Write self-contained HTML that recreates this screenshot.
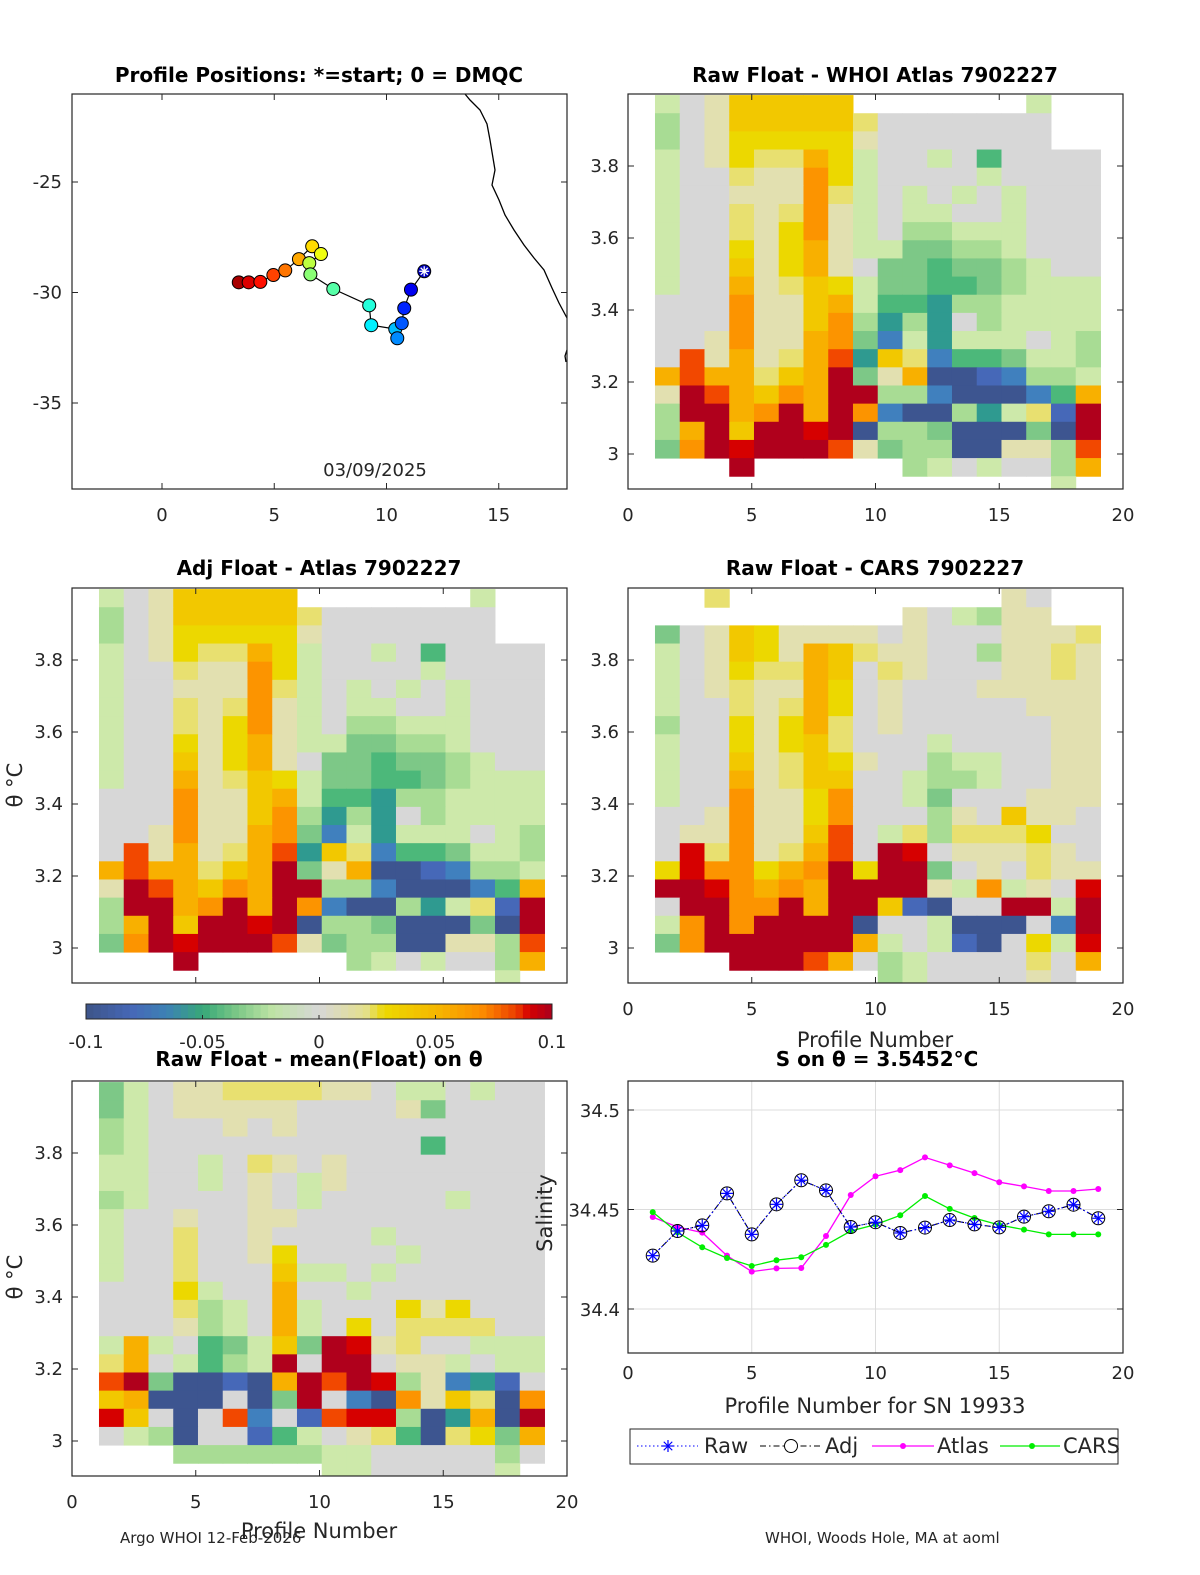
<!DOCTYPE html>
<html><head><meta charset="utf-8"><style>
html,body{margin:0;padding:0;background:#fff;}
svg{display:block;font-family:"DejaVu Sans","Liberation Sans",sans-serif;}
.tk{font-size:18px;fill:#262626;}
.tt{font-size:20px;font-weight:bold;fill:#000;}
.lb{font-size:21px;fill:#262626;}
</style></head><body>
<svg id="fig" width="1200" height="1575" viewBox="0 0 1200 1575" xmlns="http://www.w3.org/2000/svg"></svg>
<script>
// ---------- data ----------
// Heatmap codes: a=-0.1 ... i=0 ... q=+0.1, r=+0.1125, '.'=no data. Rows top (high theta) to bottom.
const whoiRows = [
"hijmmmmm.......h..","gijmmmmmkiiiiiii..","gijllllljiiiiiii..","hijlkknlhiihieiiii",
"hiikjjolhiiiihiiii","hiijjjokhihihihiii","hiikjkojhihhiihiii","hiikjlojhigghhhiii",
"hiiljlnjhhffgghiii","hiimjlnjiffeffghii","hiinjkmlhffeefghhh","iiiojjmnheedgghhhh",
"iiiojjmogdgdighhhh","iijojjnofchdhhhihg","ipjnjknpdmkceefhhg","npnnkmnrfjnaabcggh",
"jrpnmonrrggcaaacen","grrnornrocaagdhkbr","gnrmrrqraggfaaafar","forqrrrpjfggaajjgp",
"...r......ghihiign","................h."];
const atlasRows = whoiRows.slice();
const carsRows = [
"..k...........ji..","..........jihgjj..","fijmljjjjijiiijjjk","hijmljnmkjjiigjjkj",
"hijlkknmikjiiijjkj","hijkjjnlijiiijjjjj","hiikjknlijiiiiijjj","giiljlnkijiiiiiijj",
"hiiljlmkiiihiiiijj","hiimjkmljiighhiijj","hiinjkmmiihgghiijj","hiiojjloiihfiiijjj",
"iijojjloiiigjimjji","ijjojjmpihkgkkklii","iqkojknpirqijjjkji","lqoolnorlrrfijikjj",
"rrqononrrrrjhohjiq","irroornrrmbaiirrhr","hororrrraiihaaaicr","forrrrrrnhihbailhq",
"...rrrpnighiiiikin",".........ghiiiiji."];
const meanRows = [
"fhijjkkkkjjihhihii","fhijjjjjiiiijfiiii","ghiiijijiiiiiiiiii","ghiiiiiiiiiiieiiii",
"hhiihikjijiiiiiiii","hhiihijihjiiiiiiii","ghiiiijihiiiiihiii","hiijiijjiiiiiiiiii",
"hiikiijiiiihiiiiii","hiikiijliiiihiiiii","hiikiiimhhihiiiiii","iiilhiiniihiiiiiii",
"iiikghinhiiiljliii","iiijghinhilikkkkii","hnhiefhmfrqjkiihhh","kniheghrirrijjhihh",
"prfaabanrprqgjcdbi","mnaaaiafricaojmkao","qmiaipcibpqqgadnar","ihgaiibehijkeaklfn",
"...gggggghhiiiiigi",".........hhiiiiih."];
const profiles = [1,2,3,4,5,6,7,8,9,10,11,12,13,14,15,16,17,18,19];
const rawSal = [34.4268,34.4392,34.4420,34.4581,34.4375,34.4526,34.4647,34.4596,34.4412,34.4436,34.4382,34.4409,34.4447,34.4425,34.4410,34.4464,34.4491,34.4524,34.4456];
const adjSal = [34.4268,34.4392,34.4420,34.4581,34.4375,34.4526,34.4647,34.4596,34.4412,34.4436,34.4382,34.4409,34.4447,34.4425,34.4410,34.4464,34.4491,34.4524,34.4456];
const atlasSal = [34.4462,34.4412,34.4384,34.4268,34.4188,34.4204,34.4206,34.4367,34.4573,34.4667,34.4698,34.4762,34.4722,34.4683,34.4637,34.4616,34.4593,34.4593,34.4603];
const carsSal = [34.4487,34.4385,34.4310,34.4256,34.4216,34.4245,34.4260,34.4322,34.4392,34.4424,34.4471,34.4568,34.4503,34.4457,34.4422,34.4399,34.4375,34.4375,34.4375];
const lon = [11.68,11.09,10.79,10.68,10.48,10.39,9.32,9.23,7.63,6.61,6.56,7.08,6.69,6.10,5.49,4.96,4.38,3.86,3.42];
const lat = [-29.04,-29.87,-30.71,-31.39,-32.07,-31.65,-31.48,-30.58,-29.84,-29.18,-28.67,-28.26,-27.91,-28.49,-29.00,-29.21,-29.52,-29.54,-29.54];
const thetaTicks = [3,3.2,3.4,3.6,3.8];
const thetaTickLabels = ["3","3.2","3.4","3.6","3.8"];
const profTicks = [0,5,10,15,20];
const salTicks = [34.4,34.45,34.5];
const salTickLabels = ["34.4","34.45","34.5"];
const lonTicks = [0,5,10,15];
const latTicks = [-25,-30,-35];
const cbTicks = [-0.1,-0.05,0,0.05,0.1];
const cbTickLabels = ["-0.1","-0.05","0","0.05","0.1"];

// ---------- helpers ----------
const svg = document.getElementById('fig');
const NS = 'http://www.w3.org/2000/svg';
function mk(tag, attrs, parent){const e=document.createElementNS(NS,tag);for(const k in attrs)e.setAttribute(k,attrs[k]);(parent||svg).appendChild(e);return e;}
function txt(s, x, y, cls, anchor, parent){const t=mk('text',{x:x,y:y,class:cls,'text-anchor':anchor||'middle'},parent);t.textContent=s;return t;}
const palette = ["#3d5590","#4565b0","#4278c0","#3a8cb0","#2f9a90","#35a87e","#4cb87a","#8dd18a","#d7d7d7",
                 "#e2e0b4","#e8e070","#ecd800","#f2c800","#f8b000","#fc9000","#f24800","#d60000","#b0001c"];
// remap: index 7 is light green; grey at 8
const codeVal = c => (c.charCodeAt(0)-97-8)/80;
const pal2 = ["#3d5590","#4668b8","#4080be","#3a8cb0","#30a088","#4cb87a","#7dc887","#a8dc94","#cde9aa",
              "#d7d7d7","#e2e0b0","#e8e070","#ecd800","#f2c800","#f8b000","#fc9400","#f24800","#d60000","#b0001c"];
function colorFor(v){let i=Math.round(v*80)+8; if(i<0)i=0; if(i>17)i=17; return cellPal[i];}
const cellPal = ["#3d5590","#4668b8","#4080be","#2f9a90","#4cb87a","#7dc887","#a8dc94","#cde9aa",
                 "#d7d7d7","#e2e0b0","#e8e070","#ecd800","#f2c800","#f8b000","#fc9400","#f24800","#d60000","#b0001c"];

function axesBox(x0,y0,w,h,name){
  const r=mk('rect',{x:x0,y:y0,width:w,height:h,fill:'none',stroke:'#262626','stroke-width':1.2});
  
  
}
function heatmap(rows, x0, y0, name, showX){
  const W=495,H=395;
  const g=mk('g',{});
  
  
  const xs = p => x0 + p*W/20;
  // theta 3 at y0+360 ; 3.8 at y0+72
  const ys = t => y0 + 360 - (t-3)*360;
  const rowH = 18.15;
  const top = 3 + 360/360; // theta at axis top ~ 3.997
  rows.forEach((r,k)=>{
    for(let j=0;j<r.length;j++){
      const ch=r[j]; if(ch==='.')continue;
      const v=codeVal(ch);
      const tTop = 4 - 0.003 - k*rowH/360;
      const tBot = tTop - rowH/360;
      const px=xs(profiles[j]+0.09);
      let yT=ys(tTop), yB=ys(tBot);
      if(yT<y0)yT=y0; if(yB>y0+H)yB=y0+H;
      const c=mk('rect',{x:px.toFixed(2),y:yT.toFixed(2),width:(W/20+0.5).toFixed(2),height:(yB-yT+0.5).toFixed(2),fill:colorFor(v)},g);
      
      
    }
  });
  axesBox(x0,y0,W,H,name+'-axes');
  thetaTicks.forEach((t,i)=>{
    const y=ys(t);
    mk('line',{x1:x0,x2:x0+6,y1:y,y2:y,stroke:'#262626'});
    mk('line',{x1:x0+W-6,x2:x0+W,y1:y,y2:y,stroke:'#262626'});
    const l=txt(thetaTickLabels[i],x0-9,y+6,'tk','end');
    
    
  });
  profTicks.forEach(p=>{
    const x=xs(p);
    mk('line',{x1:x,x2:x,y1:y0+H,y2:y0+H-6,stroke:'#262626'});
    mk('line',{x1:x,x2:x,y1:y0,y2:y0+6,stroke:'#262626'});
    if(showX){const l=txt(String(p),x,y0+H+32,'tk');
      
      }
  });
}

// ---------- map panel ----------
(function(){
  const x0=72,y0=94,W=495,H=395;
  const lx = v => 162 + v*22.45;
  const ly = v => 182 - (v+25)*22.1;
  const g=mk('g',{});
  
  
  const coast="465,94 470,100 480,110 487,124 490,140 493,158 495,170 492,185 499,200 505,215 514,230 524,245 534,258 544,270 552,288 559,303 567,318";
  mk('polyline',{points:coast,fill:'none',stroke:'#000','stroke-width':1.3},g);
  mk('polyline',{points:"567,350 565,356 566,362",fill:'none',stroke:'#000','stroke-width':1.3},g);
  const pts=lon.map((v,i)=>lx(v).toFixed(1)+','+ly(lat[i]).toFixed(1)).join(' ');
  const tr=mk('polyline',{points:pts,fill:'none',stroke:'#000','stroke-width':1.2},g);
  
  
  function jet(t){const r=Math.min(1,Math.max(0,1.5-Math.abs(4*t-3))),gg=Math.min(1,Math.max(0,1.5-Math.abs(4*t-2))),b=Math.min(1,Math.max(0,1.5-Math.abs(4*t-1)));return `rgb(${Math.round(r*255)},${Math.round(gg*255)},${Math.round(b*255)})`;}
  for(let i=lon.length-1;i>=0;i--){
    const cx=lx(lon[i]),cy=ly(lat[i]);
    const c=mk('circle',{cx:cx,cy:cy,r:6.5,fill:jet(0.06+0.9*i/(lon.length-1)),stroke:'#000','stroke-width':1},g);
    
    
    if(i===0){
      for(let a=0;a<4;a++){const an=a*Math.PI/4;mk('line',{x1:cx-5*Math.cos(an),y1:cy-5*Math.sin(an),x2:cx+5*Math.cos(an),y2:cy+5*Math.sin(an),stroke:'#fff','stroke-width':1.3},g);}
    }
  }
  axesBox(x0,y0,W,H,'map-axes');
  lonTicks.forEach(v=>{const x=lx(v);mk('line',{x1:x,x2:x,y1:y0+H,y2:y0+H-6,stroke:'#262626'});mk('line',{x1:x,x2:x,y1:y0,y2:y0+6,stroke:'#262626'});
    const l=txt(String(v),x,y0+H+32,'tk');});
  latTicks.forEach(v=>{const y=ly(v);mk('line',{x1:x0,x2:x0+6,y1:y,y2:y,stroke:'#262626'});mk('line',{x1:x0+W-6,x2:x0+W,y1:y,y2:y,stroke:'#262626'});
    const l=txt(String(v),x0-10,y+6,'tk','end');});
  const d=txt('03/09/2025',375,476,'tk');
})();

heatmap(whoiRows,628,94,'whoi-heatmap',true);
heatmap(atlasRows,72,588,'atlas-heatmap',false);
heatmap(carsRows,628,588,'cars-heatmap',true);
heatmap(meanRows,72,1081,'mean-heatmap',true);

// ---------- colorbar ----------
(function(){
  const x0=86,x1=552,y0=1004,h=15;
  const stops=[[-0.1,[61,84,136]],[-0.08,[70,104,184]],[-0.065,[60,130,180]],[-0.05,[55,168,120]],[-0.035,[125,200,135]],[-0.02,[190,228,165]],[0,[215,215,215]],[0.02,[228,224,140]],[0.028,[236,216,0]],[0.05,[245,184,0]],[0.07,[252,140,0]],[0.085,[235,60,0]],[0.09,[214,0,0]],[0.1,[170,0,30]]];
  const g=mk('g',{});
  
  
  const N=64;
  for(let i=0;i<N;i++){
    const v=-0.1+(i+0.5)*0.2/N;let c=stops[0][1];
    for(let k=0;k<stops.length-1;k++){if(v>=stops[k][0]&&v<=stops[k+1][0]){const f=(v-stops[k][0])/(stops[k+1][0]-stops[k][0]);c=stops[k][1].map((a,j)=>Math.round(a+f*(stops[k+1][1][j]-a)));}}
    mk('rect',{x:x0+i*(x1-x0)/N,y:y0,width:(x1-x0)/N+0.5,height:h,fill:`rgb(${c})`},g);
  }
  mk('rect',{x:x0,y:y0,width:x1-x0,height:h,fill:'none',stroke:'#262626'},g);
  cbTicks.forEach((t,i)=>{const x=x0+(t+0.1)/0.2*(x1-x0);mk('line',{x1:x,x2:x,y1:y0+h,y2:y0+h-4,stroke:'#262626'},g);
    const l=txt(cbTickLabels[i],x,1048,'tk','middle',g);});
})();

// ---------- salinity line chart ----------
(function(){
  const x0=628,y0=1081,W=495,H=272;
  const xs=p=>x0+p*W/20;
  const ys=s=>1110+(34.5-s)*1990;
  const g=mk('g',{});
  
  
  [5,10,15].forEach(p=>mk('line',{x1:xs(p),x2:xs(p),y1:y0,y2:y0+H,stroke:'#dcdcdc'},g));
  salTicks.forEach(s=>mk('line',{x1:x0,x2:x0+W,y1:ys(s),y2:ys(s),stroke:'#dcdcdc'},g));
  function series(vals,color,dash,width,name){
    const p=vals.map((v,i)=>xs(profiles[i]).toFixed(1)+','+ys(v).toFixed(1)).join(' ');
    const l=mk('polyline',{points:p,fill:'none',stroke:color,'stroke-width':width,'stroke-dasharray':dash},g);
    
    
  }
  series(atlasSal,'#ff00ff','none',1.3,'atlas-line');
  series(carsSal,'#00ee00','none',1.3,'cars-line');
  atlasSal.forEach((v,i)=>mk('circle',{cx:xs(profiles[i]),cy:ys(v),r:3,fill:'#ff00ff'},g));
  carsSal.forEach((v,i)=>mk('circle',{cx:xs(profiles[i]),cy:ys(v),r:3,fill:'#00ee00'},g));
  series(adjSal,'#000','6,3,1.5,3',1.1,'adj-line');
  series(rawSal,'#0000ff','1.5,2.5',1.1,'raw-line');
  adjSal.forEach((v,i)=>mk('circle',{cx:xs(profiles[i]),cy:ys(v),r:6.5,fill:'none',stroke:'#000','stroke-width':1},g));
  function star(cx,cy,r,col,par){for(let a=0;a<4;a++){const an=a*Math.PI/4;mk('line',{x1:cx-r*Math.cos(an),y1:cy-r*Math.sin(an),x2:cx+r*Math.cos(an),y2:cy+r*Math.sin(an),stroke:col,'stroke-width':1.2},par);}}
  rawSal.forEach((v,i)=>star(xs(profiles[i]),ys(v),6,'#0000ff',g));
  axesBox(x0,y0,W,H,'salinity-axes');
  salTicks.forEach((s,i)=>{mk('line',{x1:x0,x2:x0+6,y1:ys(s),y2:ys(s),stroke:'#262626'});mk('line',{x1:x0+W-6,x2:x0+W,y1:ys(s),y2:ys(s),stroke:'#262626'});
    const l=txt(salTickLabels[i],x0-8,ys(s)+7,'tk','end');});
  profTicks.forEach(p=>{const l=txt(String(p),xs(p),y0+H+26,'tk');});
  // legend
  const lg=mk('g',{});
  
  
  mk('rect',{x:630,y:1429,width:488,height:35,fill:'#fff',stroke:'#262626'},lg);
  mk('line',{x1:637,x2:698,y1:1446,y2:1446,stroke:'#0000ff','stroke-dasharray':'1.5,2.5'},lg);star(668,1446,6,'#0000ff',lg);
  txt('Raw',704,1453,'lb','start',lg);
  mk('line',{x1:760,x2:821,y1:1446,y2:1446,stroke:'#000','stroke-dasharray':'6,3,1.5,3'},lg);mk('circle',{cx:791,cy:1446,r:6.5,fill:'#fff',stroke:'#000'},lg);
  txt('Adj',825,1453,'lb','start',lg);
  mk('line',{x1:872,x2:934,y1:1446,y2:1446,stroke:'#ff00ff','stroke-width':1.3},lg);mk('circle',{cx:903,cy:1446,r:3,fill:'#ff00ff'},lg);
  txt('Atlas',937,1453,'lb','start',lg);
  mk('line',{x1:1000,x2:1060,y1:1446,y2:1446,stroke:'#00ee00','stroke-width':1.3},lg);mk('circle',{cx:1032,cy:1446,r:3,fill:'#00ee00'},lg);
  txt('CARS',1063,1453,'lb','start',lg);
})();

// ---------- titles & labels ----------
function label(s,x,y,cls,name,anchor,rot){const t=txt(s,x,y,cls,anchor);if(rot)t.setAttribute('transform',`rotate(-90 ${x} ${y})`);
  
  return t;}
label('Profile Positions: *=start; 0 = DMQC',319,82,'tt','map-title');
label('Raw Float - WHOI Atlas  7902227',875,82,'tt','whoi-title');
label('Adj Float - Atlas  7902227',319,575,'tt','atlas-title');
label('Raw Float - CARS  7902227',875,575,'tt','cars-title');
label('Raw Float - mean(Float) on θ',319,1066,'tt','mean-title');
label('S on θ = 3.5452°C',877,1066,'tt','salinity-title');
label('θ °C',22,785,'lb','atlas-y-title','middle',true);
label('θ °C',22,1277,'lb','mean-y-title','middle',true);
label('Salinity',552,1213,'lb','salinity-y-title','middle',true);
label('Profile Number',875,1047,'lb','cars-x-title');
label('Profile Number',319,1538,'lb','mean-x-title');
label('Profile Number for SN 19933',875,1413,'lb','salinity-x-title');
const f1=label('Argo WHOI 12-Feb-2026',120,1543,'tk','footer-left','start');f1.style.fontSize='15px';
const f2=label('WHOI, Woods Hole, MA at aoml',765,1543,'tk','footer-right','start');f2.style.fontSize='15px';
</script>
</body></html>
